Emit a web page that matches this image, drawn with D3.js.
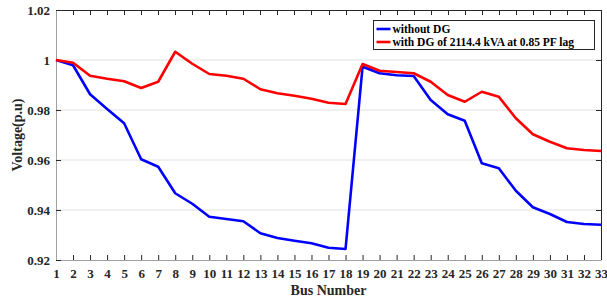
<!DOCTYPE html>
<html>
<head>
<meta charset="utf-8">
<script src="https://cdn.jsdelivr.net/npm/d3@7"></script>
<style>
  body { margin: 0; background: #fff; }
  text { font-family: "Liberation Serif", "Times New Roman", serif; font-weight: bold; }
</style>
</head>
<body>
<div id="container"></div>
<script>
// bus numbers 1..33
const buses = d3.range(1, 34);
const withoutDG = [1.0000, 0.9979, 0.9863, 0.9804, 0.9747, 0.9603, 0.9573, 0.9467, 0.9425, 0.9373,
    0.9364, 0.9355, 0.9307, 0.9288, 0.9277, 0.9267, 0.9249, 0.9244, 0.9973, 0.9947,
    0.9939, 0.9936, 0.9840, 0.9783, 0.9757, 0.9587, 0.9567, 0.9477, 0.9411, 0.9384,
    0.9352, 0.9344, 0.9341];
const withDG = [1.0000, 0.9989, 0.9937, 0.9925, 0.9915, 0.9888, 0.9913, 1.0033, 0.9985, 0.9944,
    0.9937, 0.9925, 0.9883, 0.9867, 0.9857, 0.9845, 0.9829, 0.9824, 0.9984, 0.9957,
    0.9952, 0.9947, 0.9913, 0.9860, 0.9833, 0.9873, 0.9853, 0.9767, 0.9703, 0.9673,
    0.9647, 0.9640, 0.9636];
const yTicks = [0.92, 0.94, 0.96, 0.98, 1.0, 1.02];
const seriesNames = ["without DG", "with DG of 2114.4 kVA at 0.85 PF lag"];
const seriesColors = ["#0000ff", "#ff0000"];

const W = 607, H = 303;
const margin = {top: 10, right: 6, bottom: 43, left: 56};
const width = W - margin.left - margin.right;
const height = H - margin.top - margin.bottom;

const scaleX = d3.scaleLinear().domain([1, 33]).range([0, width]);
const scaleY = d3.scaleLinear().domain([0.92, 1.02]).range([height, 0]);

const svg = d3.select("#container").append("svg")
    .attr("width", W)
    .attr("height", H);
const graph = svg.append("g")
    .attr("transform", "translate(" + margin.left + "," + margin.top + ")");

// horizontal grid
graph.append("g")
    .selectAll("line")
    .data(yTicks.slice(1, -1))
    .join("line")
    .attr("x1", 0).attr("x2", width)
    .attr("y1", d => scaleY(d)).attr("y2", d => scaleY(d))
    .attr("stroke", "#e0e0e0")
    .attr("stroke-width", 1);

// box top/right
graph.append("path")
    .attr("d", "M0,0.5H" + (width + 0.5) + "V" + height)
    .attr("fill", "none")
    .attr("stroke", "#262626");

// ticks along top and right (inward)
graph.append("g").selectAll("line").data(buses).join("line")
    .attr("x1", d => Math.round(scaleX(d)) + 0.5).attr("x2", d => Math.round(scaleX(d)) + 0.5)
    .attr("y1", 0).attr("y2", 5)
    .attr("stroke", "#262626");
graph.append("g").selectAll("line").data(yTicks).join("line")
    .attr("x1", width - 5).attr("x2", width)
    .attr("y1", d => Math.round(scaleY(d)) + 0.5).attr("y2", d => Math.round(scaleY(d)) + 0.5)
    .attr("stroke", "#262626");

// x axis
const xAxis = graph.append("g")
    .attr("transform", "translate(0," + height + ")")
    .call(d3.axisBottom(scaleX).tickValues(buses).tickFormat(d3.format("d"))
        .tickSizeInner(-5).tickSizeOuter(0).tickPadding(9));
xAxis.select(".domain").attr("stroke", "#a0a0a0");
xAxis.selectAll(".tick line").attr("stroke", "#262626");
xAxis.selectAll("text").attr("font-size", 13).attr("fill", "#262626")
    .attr("font-family", "Liberation Serif");

// y axis
const yAxis = graph.append("g")
    .call(d3.axisLeft(scaleY).tickValues(yTicks).tickFormat(d => d === 1 ? "1" : d3.format(".2f")(d))
        .tickSizeInner(-5).tickSizeOuter(0).tickPadding(6));
yAxis.select(".domain").attr("stroke", "#a0a0a0");
yAxis.selectAll(".tick line").attr("stroke", "#262626");
yAxis.selectAll("text").attr("font-size", 13).attr("fill", "#262626")
    .attr("font-family", "Liberation Serif");

// lines
const line = d3.line()
    .x((d, i) => scaleX(buses[i]))
    .y(d => scaleY(d));

[withoutDG, withDG].forEach((vals, i) => {
    graph.append("path")
        .datum(vals)
        .attr("fill", "none")
        .attr("stroke", seriesColors[i])
        .attr("stroke-width", 2.6)
        .attr("stroke-linejoin", "round")
        .attr("d", line);
});

// axis labels
svg.append("text")
    .attr("x", margin.left + width / 2)
    .attr("y", 295)
    .attr("text-anchor", "middle")
    .attr("font-size", 14)
    .attr("fill", "#262626")
    .text("Bus Number");
svg.append("text")
    .attr("transform", "translate(22," + (margin.top + height / 2) + ") rotate(-90)")
    .attr("text-anchor", "middle")
    .attr("font-size", 14)
    .attr("fill", "#262626")
    .text("Voltage(p.u)");

// legend
const legend = svg.append("g").attr("transform", "translate(373.5,20.5)");
legend.append("rect")
    .attr("width", 221).attr("height", 29)
    .attr("fill", "#fff")
    .attr("stroke", "#262626");
seriesNames.forEach((name, i) => {
    const yy = 8.5 + i * 13;
    legend.append("line")
        .attr("x1", 3).attr("x2", 17)
        .attr("y1", yy).attr("y2", yy)
        .attr("stroke", seriesColors[i])
        .attr("stroke-width", 2.6);
    legend.append("text")
        .attr("x", 19).attr("y", yy + 4)
        .attr("font-size", 11.5)
        .attr("fill", "#000")
        .text(name);
});
</script>
</body>
</html>
